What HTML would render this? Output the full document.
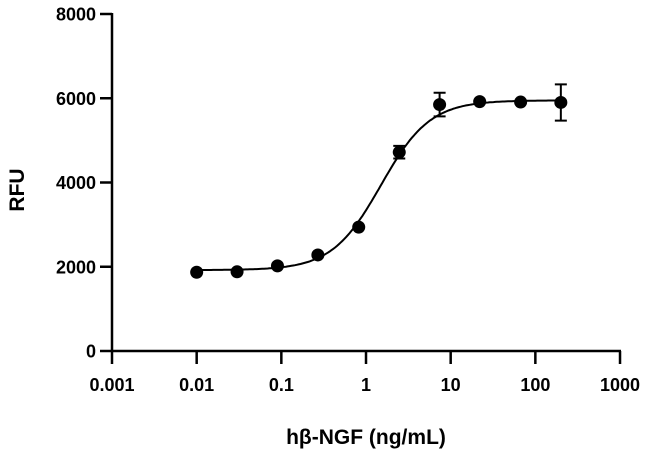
<!DOCTYPE html>
<html><head><meta charset="utf-8"><style>
body{margin:0;background:#fff}
svg{display:block;font-family:"Liberation Sans",Arial,sans-serif;font-weight:bold}
</style></head><body>
<svg id="chart" width="650" height="454" viewBox="0 0 650 454">
<g id="axes"></g>
<path id="curve" fill="none" stroke="#000" stroke-width="2"/>
<g id="pts"></g>
<text x="24" y="190" transform="rotate(-90 24 190)" font-size="21" text-anchor="middle">RFU</text>
<text x="366" y="444" font-size="21" text-anchor="middle">hβ-NGF (ng/mL)</text>
</svg>
<script>
const doses=[0.01,0.03,0.09,0.27,0.82,2.47,7.4,22,67,200];
const rfu=[1870,1880,2020,2280,2940,4720,5850,5920,5910,5900];
const errs=[0,0,0,0,0,150,280,0,0,430];
const xTicks=[0.001,0.01,0.1,1,10,100,1000];
const xTickLabels=["0.001","0.01","0.1","1","10","100","1000"];
const yTicks=[0,2000,4000,6000,8000];
const fitBottom=1920,fitTop=5950,fitEC50=1.5,fitHill=1.5;
const NS="http://www.w3.org/2000/svg";
const X=v=>112+(Math.log10(v)+3)*84.67;
const Y=v=>351-v*(337/8000);
function mk(t,a,p){const e=document.createElementNS(NS,t);for(const k in a)e.setAttribute(k,a[k]);p.appendChild(e);return e;}
const ax=document.getElementById('axes');
const xl=mk('line',{x1:112,y1:351,x2:621,y2:351,stroke:'#000','stroke-width':2.5},ax);


const yl=mk('line',{x1:112,y1:13,x2:112,y2:352,stroke:'#000','stroke-width':2.5},ax);


xTicks.forEach((v,i)=>{
 const t=mk('line',{x1:X(v),y1:351,x2:X(v),y2:364,stroke:'#000','stroke-width':2.5},ax);
 
 
 const l=mk('text',{x:X(v),y:391,'font-size':18,'text-anchor':'middle'},ax);l.textContent=xTickLabels[i];
 
 
});
yTicks.forEach(v=>{
 const t=mk('line',{x1:100,y1:Y(v),x2:112,y2:Y(v),stroke:'#000','stroke-width':2.5},ax);
 
 
 const l=mk('text',{x:96,y:Y(v)+6.5,'font-size':18,'text-anchor':'end'},ax);l.textContent=v;
 
 
});
let d='';
for(let i=0;i<=200;i++){const lx=-2+i*(Math.log10(200)+2)/200;const x=Math.pow(10,lx);
 const y=fitBottom+(fitTop-fitBottom)/(1+Math.pow(fitEC50/x,fitHill));
 d+=(i?'L':'M')+X(x).toFixed(1)+' '+Y(y).toFixed(1);}
document.getElementById('curve').setAttribute('d',d);
const pg=document.getElementById('pts');
doses.forEach((x,i)=>{
 if(errs[i]>0){
  const e=mk('path',{d:`M${X(x)} ${Y(rfu[i]+errs[i])}V${Y(rfu[i]-errs[i])}M${X(x)-6} ${Y(rfu[i]+errs[i])}h12M${X(x)-6} ${Y(rfu[i]-errs[i])}h12`,stroke:'#000','stroke-width':2,fill:'none'},pg);
  
  
 }
 const c=mk('circle',{cx:X(x),cy:Y(rfu[i]),r:6.5,fill:'#000'},pg);
 
 
});
</script>
</body></html>
